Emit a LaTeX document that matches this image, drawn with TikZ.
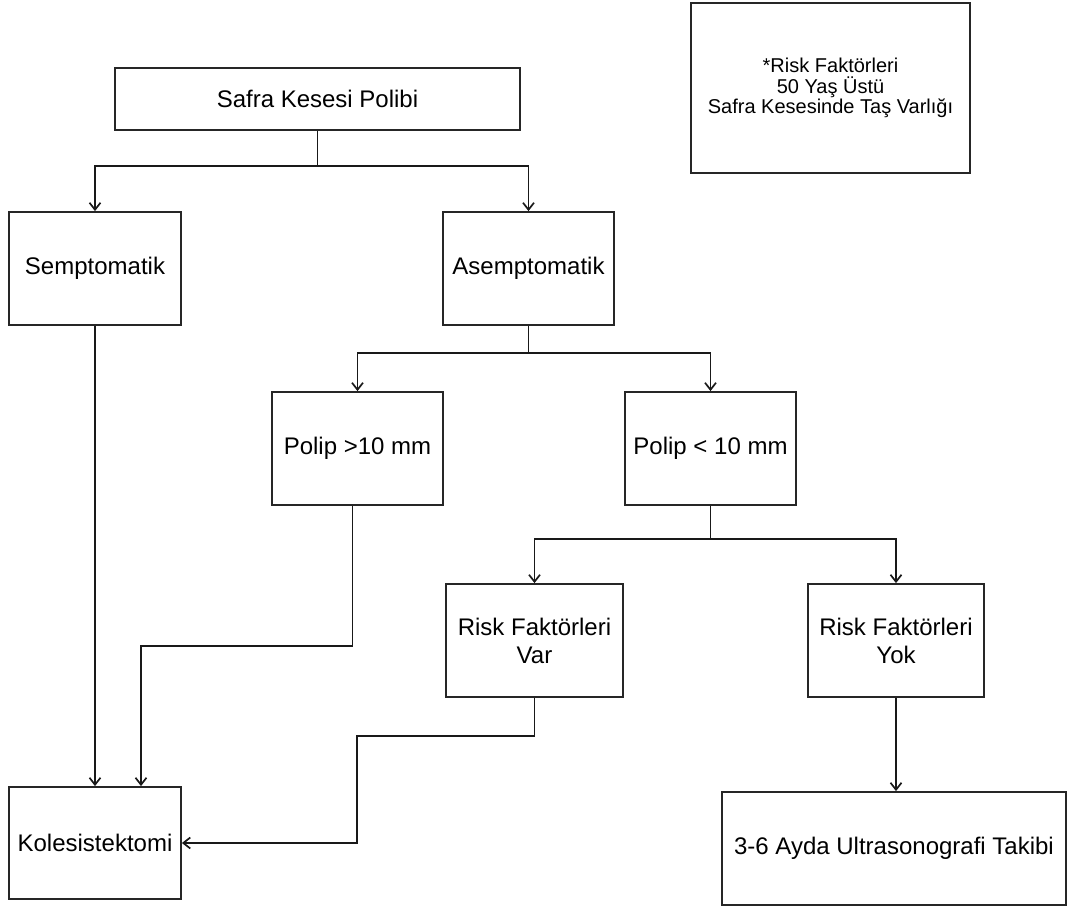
\documentclass[tikz,border=0pt]{standalone}
\usepackage{fontspec}
\setmainfont{Liberation Sans}
\usepackage{tikz}
\usetikzlibrary{arrows.meta}

\begin{document}
\begin{tikzpicture}[x=1pt, y=-1pt,
	kutu/.style={draw=black!85, line width=1.8pt, rectangle, inner sep=0pt, align=center, font=\fontsize{24}{28}\selectfont},
	ok/.style={draw=black!90, line width=1.7pt, -{Straight Barb[length=7pt, width=11pt, line width=1.7pt]}},
	hat/.style={draw=black!90, line width=1.7pt}]
	\useasboundingbox (0,0) rectangle (1074,907);

	\node[kutu, minimum width=405pt, minimum height=62pt] (polip) at (317.5,99) {Safra Kesesi Polibi};
	\node[kutu, minimum width=279pt, minimum height=170pt, font=\fontsize{20}{20.5}\selectfont] (risk) at (830.5,88) {*Risk Faktörleri\\50 Yaş Üstü\\Safra Kesesinde Taş Varlığı};
	\node[kutu, minimum width=172pt, minimum height=113pt] (semp) at (95,268.5) {Semptomatik};
	\node[kutu, minimum width=171pt, minimum height=113pt] (asemp) at (528.5,268.5) {Asemptomatik};
	\node[kutu, minimum width=171pt, minimum height=113pt] (buyuk) at (357.5,448.5) {Polip >10 mm};
	\node[kutu, minimum width=171pt, minimum height=113pt] (kucuk) at (710.5,448.5) {Polip < 10 mm};
	\node[kutu, minimum width=177pt, minimum height=113pt] (rvar) at (534.5,640.5) {Risk Faktörleri\\Var};
	\node[kutu, minimum width=176pt, minimum height=113pt] (ryok) at (896,640.5) {Risk Faktörleri\\Yok};
	\node[kutu, minimum width=172pt, minimum height=112pt] (kole) at (95,843) {Kolesistektomi};
	\node[kutu, minimum width=344pt, minimum height=113pt] (takip) at (894,848.5) {3-6 Ayda Ultrasonografi Takibi};

	\coordinate (ayr1) at (317.5,166);
	\coordinate (ayr2) at (528.5,353);
	\coordinate (ayr3) at (710.5,539);
	\coordinate (don1) at (141,646);
	\coordinate (don2) at (357,736);

	\draw[hat] (polip.south) -- (ayr1);
	\draw[ok] (ayr1) -| (semp.north);
	\draw[ok] (ayr1) -| (asemp.north);

	\draw[hat] (asemp.south) -- (ayr2);
	\draw[ok] (ayr2) -| (buyuk.north);
	\draw[ok] (ayr2) -| (kucuk.north);

	\draw[hat] (kucuk.south) -- (ayr3);
	\draw[ok] (ayr3) -| (rvar.north);
	\draw[ok] (ayr3) -| (ryok.north);

	\draw[ok] (semp.south) -- (kole.north);
	\draw[ok] ([xshift=-5pt]buyuk.south) |- (don1) -- (don1 |- kole.north);
	\draw[ok] (rvar.south) |- (don2) |- (kole.east);
	\draw[ok] (ryok.south) -- (ryok.south |- takip.north);

\end{tikzpicture}
\end{document}
